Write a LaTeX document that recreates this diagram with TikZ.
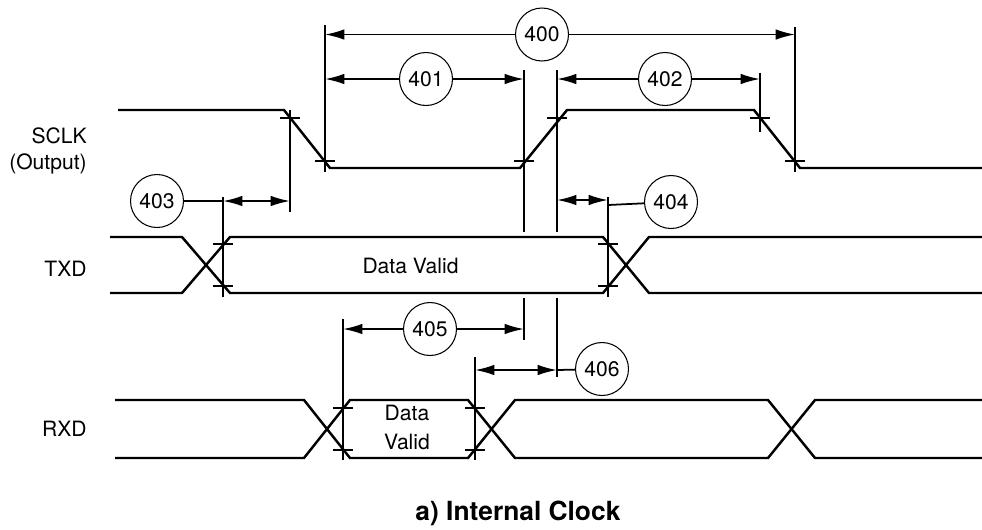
\documentclass[tikz,border=0pt]{standalone}
\usepackage{fontspec}
\setmainfont{TeX Gyre Heros}
\usepackage{tikz}
\usetikzlibrary{arrows.meta}

\tikzset{
  sig/.style={line width=1.4pt},
  ext/.style={line width=1pt},
  dim/.style={ext,->},
  dimboth/.style={ext,<->},
  num/.style={circle, draw, line width=0.6pt, minimum size=1.06cm, inner sep=0pt,
    fill=white, font=\fontsize{12}{14}\selectfont},
  lbl/.style={inner sep=0pt, font=\fontsize{12}{14}\selectfont},
}

\begin{document}
\begin{tikzpicture}[x=0.02cm, y=-0.02cm, >={Latex[length=11pt,width=6pt]}]
                \useasboundingbox (0,0) rectangle (982,529);

                % signal names
                \node[lbl, anchor=base east] (sclk) at (87,143) {SCLK};
                \node[lbl, anchor=base east] (sclkout) at (87,169.5) {(Output)};
                \node[lbl, anchor=base east] (txd) at (87,276) {TXD};
                \node[lbl, anchor=base east] (rxd) at (87,436) {RXD};

                % SCLK
                \draw[sig] (118,110) -- (284,110) -- (330,168) -- (520,168)
                -- (567,110) -- (754,110) -- (800,168) -- (982,168);

                % TXD
                \draw[sig] (110,237) -- (182,237) -- (230,293) -- (603,293)
                -- (649,237) -- (982,237);
                \draw[sig] (110,293) -- (182,293) -- (230,237) -- (603,237)
                -- (649,293) -- (982,293);
                \node[lbl, anchor=base] (txdvalid) at (410.5,273) {Data Valid};

                % RXD
                \draw[sig] (115,400) -- (304,400) -- (350,458) -- (468,458)
                -- (515,400) -- (768,400) -- (815,458) -- (982,458);
                \draw[sig] (115,458) -- (304,458) -- (350,400) -- (468,400)
                -- (515,458) -- (768,458) -- (815,400) -- (982,400);
                \node[lbl, align=center, font=\fontsize{12}{16.4}\selectfont]
                (rxdvalid) at (407,427.5) {Data\\Valid};

                % extension lines
                \draw[ext] (290,110) -- (290,212)
                (325,25) -- (325,172)
                (524,70) -- (524,232) (524,298) -- (524,340)
                (557,70) -- (557,232) (557,298) -- (557,377)
                (760,73) -- (760,132)
                (795,27) -- (795,172)
                (223,197) -- (223,297)
                (608,197) -- (608,297)
                (343,319) -- (343,460)
                (475,357) -- (475,460);

                % ticks
                \draw[ext] (280,118) -- (300,118) (315,161) -- (335,161)
                (514,161) -- (534,161) (547,118) -- (567,118)
                (750,118) -- (770,118) (785,161) -- (805,161)
                (213,244) -- (233,244) (213,286) -- (233,286)
                (598,244) -- (618,244) (598,286) -- (618,286)
                (333,408) -- (353,408) (333,450) -- (353,450)
                (465,408) -- (485,408) (465,450) -- (485,450);

                % timing numbers
                \node[num] (c400) at (542,34.5) {400};
                \node[num] (c401) at (426,79) {401};
                \node[num] (c402) at (665,79) {402};
                \node[num] (c403) at (157,201) {403};
                \node[num] (c404) at (671,202) {404};
                \node[num] (c405) at (430,329) {405};
                \node[num] (c406) at (602,369) {406};

                \coordinate (d400a) at (325,34.5);
                \coordinate (d400b) at (795,34.5);
                \coordinate (d401a) at (325,79);
                \coordinate (d401b) at (524,79);
                \coordinate (d402a) at (557,79);
                \coordinate (d402b) at (760,79);
                \coordinate (d403a) at (223,201);
                \coordinate (d403b) at (290,201);
                \coordinate (d404a) at (557,200);
                \coordinate (d404b) at (608,200);
                \coordinate (d404c) at (608,205);
                \coordinate (d405a) at (343,329);
                \coordinate (d405b) at (524,329);
                \coordinate (d406a) at (475,370);
                \coordinate (d406b) at (557,370);

                \draw[dim] (c400) -- (d400a);
                \draw[dim] (c400) -- (d400b);
                \draw[dim] (c401) -- (d401a);
                \draw[dim] (c401) -- (d401b);
                \draw[dim] (c402) -- (d402a);
                \draw[dim] (c402) -- (d402b);
                \draw[ext] (c403) -- (d403a);
                \draw[dimboth] (d403a) -- (d403b);
                \draw[dimboth] (d404a) -- (d404b);
                \draw[ext] (d404c) -- (c404);
                \draw[dim] (c405) -- (d405a);
                \draw[dim] (c405) -- (d405b);
                \draw[dimboth] (d406a) -- (d406b);
                \draw[ext] (d406b) -- (c406);

                \node[inner sep=0pt, anchor=base, font=\fontsize{15}{18}\selectfont\bfseries]
                (title) at (518,520) {a) Internal Clock};
            \end{tikzpicture}
\end{document}
